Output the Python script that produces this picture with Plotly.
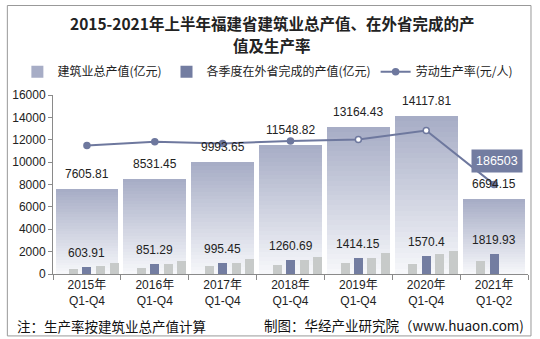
import plotly.graph_objects as go

categories = ["2015年<br>Q1-Q4", "2016年<br>Q1-Q4", "2017年<br>Q1-Q4", "2018年<br>Q1-Q4",
              "2019年<br>Q1-Q4", "2020年<br>Q1-Q4", "2021年<br>Q1-Q2"]
total_output = [7605.81, 8531.45, 9993.65, 11548.82, 13164.43, 14117.81, 6694.15]
q1_outside = [445, 535, 710, 800, 980, 890, 1190]
q2_outside = [603.91, 851.29, 995.45, 1260.69, 1414.15, 1570.4, 1819.93]
q3_outside = [710, 890, 990, 1250, 1430, 1780, None]
q4_outside = [980, 1160, 1340, 1520, 1870, 2050, None]
productivity = [267500, 275000, 271700, 277000, 280000, 298700, 186503]

FONT = "Liberation Sans, Arial, Noto Sans CJK SC, sans-serif"
CJK = "Noto Sans CJK SC, sans-serif"

fig = go.Figure()

# gradient total bars built from stacked slices of each total
N = 30
top_c = (166, 172, 197)
bot_c = (247, 248, 251)
for i in range(N):
    t = (i + 0.5) / N
    c = tuple(round(bot_c[k] + (top_c[k] - bot_c[k]) * t) for k in range(3))
    fig.add_trace(go.Bar(
        x=categories, y=[v / N for v in total_output], base=[v * i / N for v in total_output],
        width=0.925, marker=dict(color="rgb(%d,%d,%d)" % c, line=dict(width=0)),
        name="建筑业总产值(亿元)", showlegend=(i == N - 1), legendrank=1,
        hoverinfo="skip"))

q_series = [q1_outside, q2_outside, q3_outside, q4_outside]
q_colors = ["#c7cac9", "#737da1", "#c7cac9", "#c7cac9"]
q_offsets = [-0.262, -0.066, 0.134, 0.334]
for k, (vals, col, off) in enumerate(zip(q_series, q_colors, q_offsets)):
    fig.add_trace(go.Bar(
        x=categories, y=vals, width=0.132, offset=off,
        marker=dict(color=col, line=dict(width=0)),
        name="各季度在外省完成的产值(亿元)", showlegend=(k == 1), legendrank=2))

marker_fill = ["#6e789e", "#6e789e", "#6e789e", "#6e789e", "white", "white", "#6e789e"]
fig.add_trace(go.Scatter(
    x=categories, y=productivity, yaxis="y2", mode="lines+markers",
    line=dict(color="#6e789e", width=2),
    marker=dict(size=6, color=marker_fill, line=dict(color="#6e789e", width=1.5)),
    name="劳动生产率(元/人)", legendrank=3))

annotations = []
for c, v in zip(categories, total_output):
    annotations.append(dict(x=c, y=v, yref="y", text=str(v), showarrow=False,
                            yanchor="middle", yshift=15,
                            font=dict(family=FONT, size=12, color="#222")))
for c, v in zip(categories, q2_outside):
    annotations.append(dict(x=c, y=v, yref="y", text=str(v), showarrow=False,
                            yanchor="middle", yshift=14,
                            font=dict(family=FONT, size=12, color="#222")))
annotations.append(dict(x=categories[-1], y=productivity[-1], yref="y2",
                        text=f"{productivity[-1]}", showarrow=False,
                        yanchor="middle", yshift=23, xshift=3,
                        bgcolor="#737da1", borderpad=4,
                        font=dict(family=FONT, size=12.5, color="white")))
annotations.append(dict(x=-0.081, y=-0.29, xref="paper", yref="paper",
                        text="注：生产率按建筑业总产值计算", showarrow=False,
                        xanchor="left", yanchor="middle",
                        font=dict(family=CJK, size=13.5, color="#111")))
annotations.append(dict(x=0.995, y=-0.285, xref="paper", yref="paper",
                        text="制图：华经产业研究院（www.huaon.com)", showarrow=False,
                        xanchor="right", yanchor="middle",
                        font=dict(family=CJK, size=13.5, color="#111")))
title_lines = ["2015-2021年上半年福建省建筑业总产值、在外省完成的产", "值及生产率"]
for line, yp in zip(title_lines, [1.400, 1.277]):
    annotations.append(dict(x=0.461, y=yp, xref="paper", yref="paper",
                            text="<b>" + line + "</b>", showarrow=False,
                            xanchor="center", yanchor="middle",
                            font=dict(family=CJK, size=15.5, color="#222")))

fig.update_layout(
    width=540, height=339,
    margin=dict(l=53, r=12, t=95, b=65),
    paper_bgcolor="white", plot_bgcolor="white",
    barmode="overlay", bargap=0,
    legend=dict(orientation="h", x=-0.075, xanchor="left", y=1.13, yanchor="middle",
                font=dict(family=CJK, size=12, color="#222"),
                itemwidth=30, tracegroupgap=0, bgcolor="rgba(0,0,0,0)"),
    xaxis=dict(showline=True, linecolor="#8a8a8a", ticks="outside", tickson="boundaries",
               ticklen=5, tickcolor="#8a8a8a", showgrid=False,
               tickfont=dict(family=FONT, size=12, color="#222")),
    yaxis=dict(range=[0, 16000], dtick=2000, tickformat="d", showline=True,
               linecolor="#8a8a8a", ticks="outside", ticklen=4, tickcolor="#8a8a8a",
               showgrid=False, zeroline=False,
               tickfont=dict(family=FONT, size=12, color="#222")),
    yaxis2=dict(overlaying="y", range=[0, 372500], visible=False, showgrid=False),
    annotations=annotations,
    shapes=[dict(type="rect", xref="paper", yref="paper",
                 x0=-0.0961, x1=1.0063, y0=-0.346, y1=1.500,
                 line=dict(color="#999", width=1))],
)

fig.write_html("out.html")
